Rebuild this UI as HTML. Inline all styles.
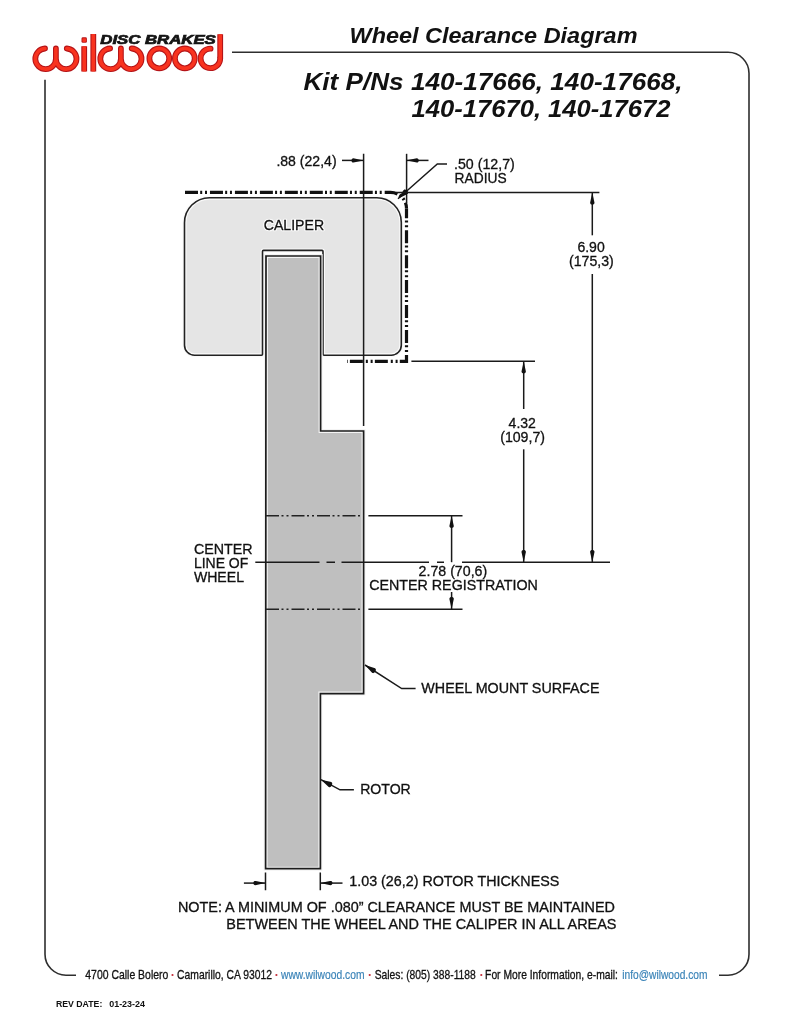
<!DOCTYPE html>
<html><head><meta charset="utf-8"><title>Wheel Clearance Diagram</title>
<style>
html,body{margin:0;padding:0;background:#fff;width:791px;height:1024px;overflow:hidden}
svg{display:block;will-change:transform}
text{font-family:"Liberation Sans",sans-serif;fill:#111}
</style></head><body>
<svg width="791" height="1024" viewBox="0 0 791 1024">
<defs>
<marker id="ah" viewBox="-1 0 13 5" refX="12" refY="2.5" markerWidth="13" markerHeight="5" markerUnits="userSpaceOnUse" orient="auto"><path d="M1.8,0.3 C-0.8,0.3 -0.8,4.7 1.8,4.7 L12,2.5 Z" fill="#111"/></marker><marker id="al" viewBox="-1 0 13 6" refX="12" refY="3" markerWidth="13" markerHeight="6" markerUnits="userSpaceOnUse" orient="auto"><path d="M1.8,0.2 C-0.9,0.2 -0.9,5.8 1.8,5.8 L12,3 Z" fill="#111"/></marker>
</defs>

<!-- LOGO -->
<defs><g id="lw">
  <path d="M45,48.5 A10.3,10.3 0 1 0 55.9,58.75 V48.5 M55.9,58.75 A10.3,10.3 0 1 0 66.8,48.5" stroke-linecap="round"/>
  <path d="M84.2,46.2 V71.4 M93.3,33.9 V71.4 M220.2,34.3 V58.4"/>
  <path d="M110.1,48.5 A10.3,10.3 0 1 0 120.9,58.75 V48.5 M120.9,58.75 A10.3,10.3 0 1 0 131.7,48.5" stroke-linecap="round"/>
  <circle cx="159.3" cy="58.4" r="9.9"/>
  <circle cx="184.8" cy="58.4" r="9.9"/>
  <path d="M210.6,48.6 A9.8,9.8 0 1 0 220.2,58.4" stroke-linecap="round"/>
</g></defs>
<g id="logo" fill="none">
  <use href="#lw" stroke="#b51418" stroke-width="5.8"/>
  <use href="#lw" stroke="#f8331f" stroke-width="3.6"/>
  <rect x="81.5" y="37.3" width="5.4" height="5.5" rx="1.4" fill="#b51418"/>
  <rect x="82.4" y="38.2" width="3.6" height="3.7" rx="0.8" fill="#f8331f"/>
</g>
<text x="100.3" y="43.5" font-size="12.2" font-weight="bold" font-style="italic" textLength="115.5" lengthAdjust="spacingAndGlyphs" style="fill:#151515;stroke:#151515;stroke-width:0.7">DISC BRAKES</text>

<!-- TITLES -->
<text x="349.5" y="42.9" font-size="22" font-weight="bold" font-style="italic" textLength="288" lengthAdjust="spacingAndGlyphs">Wheel Clearance Diagram</text>
<text x="303.5" y="89.5" font-size="24" font-weight="bold" font-style="italic" textLength="379" lengthAdjust="spacingAndGlyphs">Kit P/Ns 140-17666, 140-17668,</text>
<text x="411.5" y="117.3" font-size="24" font-weight="bold" font-style="italic" textLength="259" lengthAdjust="spacingAndGlyphs">140-17670, 140-17672</text>

<!-- FRAME -->
<g fill="none" stroke="#2e2e2e" stroke-width="1.6">
  <path d="M76,975.2 H66 A21,21 0 0 1 45,954.2 V79.7"/>
  <path d="M719,975.2 H728 A21,21 0 0 0 749,954.2 V73.3 A21,21 0 0 0 728,52.3 H232"/>
</g>

<!-- CALIPER -->
<defs>
<path id="cal" d="M209.5,197.7 H376.3 A24.5,24.5 0 0 1 401.3,222.2 V345.2 A10,10 0 0 1 391.3,355.2 H324 A1,1 0 0 1 323,354.2 V251.4 A1,1 0 0 0 322,250.4 H263.5 A1,1 0 0 0 262.5,251.4 V354.2 A1,1 0 0 1 261.5,355.2 H194.5 A10,10 0 0 1 184.5,345.2 V222.7 A25,25 0 0 1 209.5,197.7 Z"/>
<path id="rot" d="M266,256 H320.6 V431 H363.6 V693.6 H320.4 V868.7 H265.6 Z"/>
</defs>
<use href="#cal" fill="#e5e5e5" stroke="#fafafa" stroke-width="4"/>
<use href="#cal" fill="none" stroke="#222" stroke-width="1.6"/>

<!-- ROTOR -->
<use href="#rot" fill="#bfbfbf" stroke="#f4f4f4" stroke-width="4"/>
<use href="#rot" fill="none" stroke="#1c1c1c" stroke-width="1.7"/>

<!-- dash dot envelope -->
<g fill="none" stroke="#111" stroke-width="3.2" stroke-dasharray="13 2.2 2 2.8 2 2.96">
<path d="M185,192.4 H390.5 A16,16 0 0 1 406.5,208.4"/>
<path d="M406.5,208.4 V361.3 H347" stroke-dashoffset="3.16"/>
</g>

<g stroke="#1a1a1a" stroke-width="1.5" fill="none">
  <!-- .88 ext -->
  <path d="M363.6,153.8 V426"/>
  <path d="M406.6,153.8 V203"/>
  <path d="M342,160.4 H363.6" marker-end="url(#ah)"/>
  <path d="M428.5,160.4 H406.6" marker-end="url(#ah)"/>
  <!-- radius leader -->
  <path d="M447,163.9 H437.3 L398,198.7" marker-end="url(#al)"/>
  <!-- 6.90 -->
  <path d="M396,192.5 H599.4"/>
  <path d="M592.3,235.3 V192.5" marker-end="url(#ah)"/>
  <path d="M592.3,274 V562.2" marker-end="url(#ah)"/>
  <!-- 4.32 -->
  <path d="M411.4,361.3 H535"/>
  <path d="M523.7,409 V361.3" marker-end="url(#ah)"/>
  <path d="M523.7,449.3 V562.2" marker-end="url(#ah)"/>
  <!-- center line -->
  <path d="M255.3,562.2 H319.5 M326.5,562.2 H335 M341.5,562.2 H429 M437,562.2 H444 M462,562.2 H610"/>
  <!-- 2.78 -->
  <path d="M368.4,515.7 H462.5 M368.4,609.2 H462.5"/>
  <path d="M451.6,562.2 V515.7" marker-end="url(#ah)"/>
  <path d="M451.6,592 V609.2" marker-end="url(#ah)"/>
  <!-- wheel mount leader -->
  <path d="M415.6,688.6 H401.7 L365,665" marker-end="url(#al)"/>
  <!-- rotor leader -->
  <path d="M353.9,789.8 H340 L321,779.7" marker-end="url(#al)"/>
  <!-- 1.03 -->
  <path d="M265.5,872.5 V890.2 M320.3,872.5 V890.2"/>
  <path d="M243.9,883.1 H265.5" marker-end="url(#ah)"/>
  <path d="M342.5,883.1 H320.3" marker-end="url(#ah)"/>
</g>
<!-- rotor interior dash-dot lines -->
<g stroke="#222" stroke-width="1.5" fill="none" stroke-dasharray="13 2.5 2 3 2 3">
  <path d="M266,515.7 H363.6 M266,609.2 H363.6"/>
</g>

<!-- LABELS -->
<g font-size="14" style="stroke:#111;stroke-width:0.3">
<text x="276.4" y="166.4" textLength="60.2" lengthAdjust="spacingAndGlyphs">.88 (22,4)</text>
<text x="454" y="168.6" textLength="60.8" lengthAdjust="spacingAndGlyphs">.50 (12,7)</text>
<text x="454.6" y="182.5" textLength="52" lengthAdjust="spacingAndGlyphs">RADIUS</text>
<text x="263.8" y="229.7" textLength="60.3" lengthAdjust="spacingAndGlyphs" style="fill:#fff;stroke:#fcfcfc;stroke-width:2.6;stroke-linejoin:round">CALIPER</text>
<text x="263.8" y="229.7" textLength="60.3" lengthAdjust="spacingAndGlyphs">CALIPER</text>
<text x="577.4" y="251.8" textLength="27.3" lengthAdjust="spacingAndGlyphs">6.90</text>
<text x="569" y="265.8" textLength="44.8" lengthAdjust="spacingAndGlyphs">(175,3)</text>
<text x="508.6" y="428" textLength="27.3" lengthAdjust="spacingAndGlyphs">4.32</text>
<text x="500.2" y="441.7" textLength="44.8" lengthAdjust="spacingAndGlyphs">(109,7)</text>
<text x="193.9" y="554.4" textLength="58.7" lengthAdjust="spacingAndGlyphs">CENTER</text>
<text x="193.9" y="568.3" textLength="54.4" lengthAdjust="spacingAndGlyphs">LINE OF</text>
<text x="193.9" y="582.2" textLength="50.1" lengthAdjust="spacingAndGlyphs">WHEEL</text>
<text x="418.6" y="576" textLength="68.6" lengthAdjust="spacingAndGlyphs">2.78 (70,6)</text>
<text x="369.2" y="590.3" textLength="168.6" lengthAdjust="spacingAndGlyphs">CENTER REGISTRATION</text>
<text x="421.3" y="693.4" textLength="178.2" lengthAdjust="spacingAndGlyphs">WHEEL MOUNT SURFACE</text>
<text x="360.2" y="794" textLength="50.6" lengthAdjust="spacingAndGlyphs">ROTOR</text>
<text x="349.3" y="885.9" textLength="210" lengthAdjust="spacingAndGlyphs">1.03 (26,2) ROTOR THICKNESS</text>
<text x="177.9" y="912.2" textLength="437" lengthAdjust="spacingAndGlyphs">NOTE: A MINIMUM OF .080” CLEARANCE MUST BE MAINTAINED</text>
<text x="226.3" y="928.9" textLength="390.2" lengthAdjust="spacingAndGlyphs">BETWEEN THE WHEEL AND THE CALIPER IN ALL AREAS</text>
</g>

<!-- FOOTER -->
<g font-size="12.2" style="stroke:#111;stroke-width:0.3">
<text x="85.3" y="978.9" textLength="83" lengthAdjust="spacingAndGlyphs">4700 Calle Bolero</text>
<text x="177.1" y="978.9" textLength="94.8" lengthAdjust="spacingAndGlyphs">Camarillo, CA 93012</text>
<text x="281" y="978.9" textLength="83.5" lengthAdjust="spacingAndGlyphs" style="fill:#3b84b8;stroke:#3b84b8;stroke-width:0.2">www.wilwood.com</text>
<text x="374.7" y="978.9" textLength="101.1" lengthAdjust="spacingAndGlyphs">Sales: (805) 388-1188</text>
<text x="485.1" y="978.9" textLength="132.8" lengthAdjust="spacingAndGlyphs">For More Information, e-mail:</text>
<text x="622.3" y="978.9" textLength="85.1" lengthAdjust="spacingAndGlyphs" style="fill:#3b84b8;stroke:#3b84b8;stroke-width:0.2">info@wilwood.com</text>
</g>
<g fill="#c42a36">
<circle cx="172.5" cy="975" r="1.1"/>
<circle cx="276.4" cy="975" r="1.1"/>
<circle cx="369.7" cy="975" r="1.1"/>
<circle cx="481.3" cy="975" r="1.1"/>
</g>
<g font-size="8.8" font-weight="bold" style="fill:#1a1a1a"><text x="56" y="1007.2" textLength="46.3" lengthAdjust="spacingAndGlyphs">REV DATE:</text><text x="109.2" y="1007.2" textLength="35.8" lengthAdjust="spacingAndGlyphs">01-23-24</text></g>
</svg>
</body></html>
